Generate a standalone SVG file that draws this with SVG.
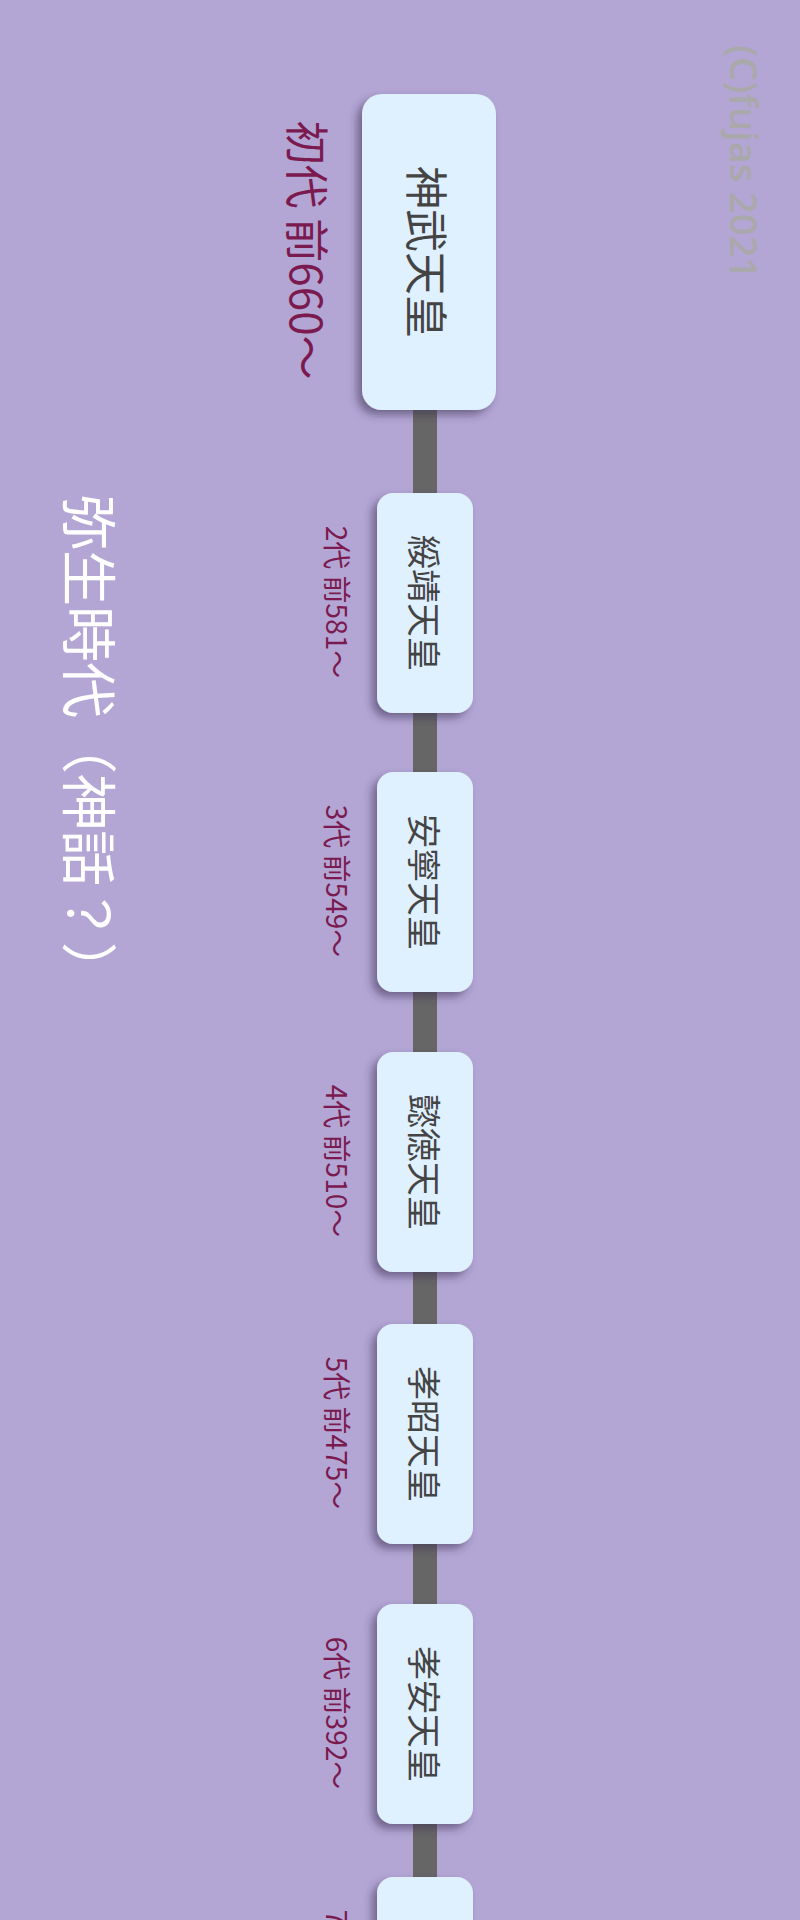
<svg xmlns="http://www.w3.org/2000/svg" width="800" height="1920" viewBox="0 0 800 1920">
  <defs>
    <filter id="sh" x="-30%" y="-30%" width="160%" height="160%">
      <feDropShadow dx="-5" dy="5" stdDeviation="4" flood-color="#3a3050" flood-opacity="0.55"/>
    </filter>
    <style>
      .node rect { fill: #dff0ff; filter: url(#sh); }
      .ntext { font-family: "Noto Sans CJK JP", "Noto Sans", sans-serif; fill: #444444; text-anchor: middle; dominant-baseline: central; }
      .label { font-family: "Noto Sans CJK JP", "Noto Sans", sans-serif; fill: #7b1a4f; text-anchor: middle; dominant-baseline: central; font-size: 28px; }
      .conn line { stroke: #666666; stroke-width: 24; }
    </style>
  </defs>
  <rect x="0" y="0" width="800" height="1920" fill="#b3a6d5"/>

  <text id="copyright" transform="translate(730,45) rotate(90)" font-family="'Open Sans', 'Noto Sans', sans-serif" font-weight="600" font-size="38" fill="#a9a9ab">(C)fujas 2021</text>

  <text id="era" transform="translate(92,494) rotate(90)" font-family="'Noto Sans CJK JP', sans-serif" font-size="56" fill="#ffffff" dominant-baseline="central">弥生時代（神話？）</text>

  <g id="connectors" class="conn">
    <line x1="425" y1="405" x2="425" y2="498"/>
    <line x1="425" y1="708" x2="425" y2="777"/>
    <line x1="425" y1="987" x2="425" y2="1057"/>
    <line x1="425" y1="1267" x2="425" y2="1329"/>
    <line x1="425" y1="1539" x2="425" y2="1609"/>
    <line x1="425" y1="1818" x2="425" y2="1882"/>
  </g>

  <g id="n1" class="node">
    <rect x="362" y="94" width="134" height="316" rx="20"/>
    <text class="ntext" font-size="43" transform="translate(429,252) rotate(90)">神武天皇</text>
    <text class="label" font-size="44" style="font-size:44px" transform="translate(309,250) rotate(90)">初代 前660〜</text>
  </g>
  <g id="n2" class="node">
    <rect x="377" y="493" width="96" height="220" rx="16"/>
    <text class="ntext" font-size="34" transform="translate(425,603) rotate(90)">綏靖天皇</text>
    <text class="label" transform="translate(338,602) rotate(90)">2代 前581〜</text>
  </g>
  <g id="n3" class="node">
    <rect x="377" y="772" width="96" height="220" rx="16"/>
    <text class="ntext" font-size="34" transform="translate(425,882) rotate(90)">安寧天皇</text>
    <text class="label" transform="translate(338,881) rotate(90)">3代 前549〜</text>
  </g>
  <g id="n4" class="node">
    <rect x="377" y="1052" width="96" height="220" rx="16"/>
    <text class="ntext" font-size="34" transform="translate(425,1162) rotate(90)">懿徳天皇</text>
    <text class="label" transform="translate(338,1161) rotate(90)">4代 前510〜</text>
  </g>
  <g id="n5" class="node">
    <rect x="377" y="1324" width="96" height="220" rx="16"/>
    <text class="ntext" font-size="34" transform="translate(425,1434) rotate(90)">孝昭天皇</text>
    <text class="label" transform="translate(338,1433) rotate(90)">5代 前475〜</text>
  </g>
  <g id="n6" class="node">
    <rect x="377" y="1604" width="96" height="220" rx="16"/>
    <text class="ntext" font-size="34" transform="translate(425,1714) rotate(90)">孝安天皇</text>
    <text class="label" transform="translate(338,1713) rotate(90)">6代 前392〜</text>
  </g>
  <g id="n7" class="node">
    <rect x="377" y="1877" width="96" height="220" rx="16"/>
    <text class="ntext" font-size="34" transform="translate(425,1987) rotate(90)">孝霊天皇</text>
    <text class="label" transform="translate(338,1986) rotate(90)">7代 前290〜</text>
  </g>
</svg>
